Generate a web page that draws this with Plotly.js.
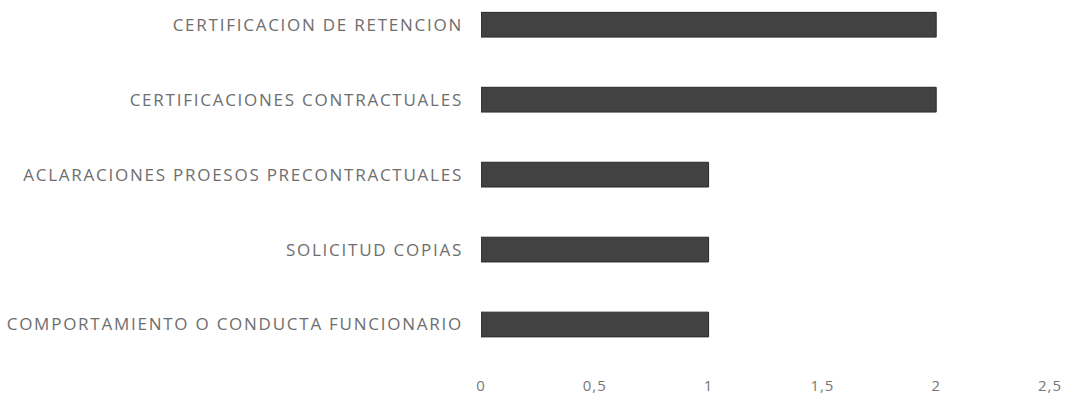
<!DOCTYPE html>
<html>
<head>
<meta charset="utf-8">
<script src="https://cdn.plot.ly/plotly-3.0.1.min.js"></script>
<style>
html,body{margin:0;padding:0;background:#fff;}
#chart{width:1069px;height:398px;}
#chart .ytick text{letter-spacing:1.75px;}
#chart .xtick text{letter-spacing:1px;}
</style>
</head>
<body>
<div id="chart"></div>
<script>
const categories = [
  "COMPORTAMIENTO O CONDUCTA FUNCIONARIO",
  "SOLICITUD COPIAS",
  "ACLARACIONES PROESOS PRECONTRACTUALES",
  "CERTIFICACIONES CONTRACTUALES",
  "CERTIFICACION DE RETENCION"
];
const values = [1, 1, 1, 2, 2];
const xTickVals = [0, 0.5, 1, 1.5, 2, 2.5];
const xTickText = ["0", "0,5", "1", "1,5", "2", "2,5"];

const trace = {
  type: "bar",
  orientation: "h",
  y: categories,
  x: values,
  marker: {color: "#424242", line: {color: "#2a2a2a", width: 1}},
  hoverinfo: "none"
};

const layout = {
  width: 1069,
  height: 398,
  margin: {l: 481, r: 19, t: 0, b: 36},
  paper_bgcolor: "#ffffff",
  plot_bgcolor: "#ffffff",
  showlegend: false,
  bargap: 0.67,
  font: {family: "Open Sans, sans-serif", color: "#6e6e6e", size: 17},
  xaxis: {
    range: [0, 2.5],
    tickvals: xTickVals,
    ticktext: xTickText,
    showgrid: false,
    zeroline: false,
    showline: false,
    ticks: "",
    ticklabelstandoff: 13,
    tickfont: {size: 15, color: "#777777"}
  },
  yaxis: {
    type: "category",
    range: [-0.5, 4.33],
    showgrid: false,
    zeroline: false,
    showline: false,
    ticks: "",
    ticklabelstandoff: 17,
    tickfont: {size: 17, color: "#6e6e6e"}
  }
};

Plotly.newPlot("chart", [trace], layout, {displayModeBar: false, staticPlot: true});
</script>
</body>
</html>
